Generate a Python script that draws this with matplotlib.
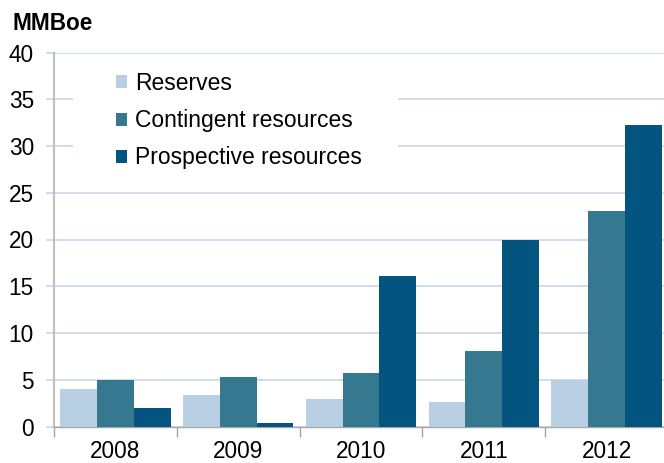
import matplotlib.pyplot as plt
from matplotlib.patches import Rectangle

years = ["2008", "2009", "2010", "2011", "2012"]
reserves = [4.0, 3.4, 2.9, 2.6, 5.0]
contingent = [5.0, 5.3, 5.75, 8.05, 23.1]
prospective = [1.95, 0.35, 16.1, 20.0, 32.2]

names = ["Reserves", "Contingent resources", "Prospective resources"]
colors = ["#b9d0e4", "#36788f", "#03557f"]

plt.rcParams['font.family'] = ['Liberation Sans', 'DejaVu Sans']

fig = plt.figure(figsize=(6.64, 4.63), dpi=100)
ax = fig.add_axes([54 / 664, 36.5 / 463, 614 / 664, 374 / 463])

x = list(range(len(years)))
w = 0.3
for i, (vals, name, c) in enumerate(zip([reserves, contingent, prospective], names, colors)):
    ax.bar([p + (i - 1) * w for p in x], vals, width=w, color=c, label=name, zorder=3)

ax.set_xlim(-0.5, len(years) - 0.5)
ax.set_ylim(0, 40)
ax.set_yticks(range(0, 41, 5))
ax.yaxis.grid(True, color="#c8d6ea", linewidth=1.2, zorder=0)
ax.set_axisbelow(True)

# category boundaries as major ticks, labels on minor ticks
ax.set_xticks([p - 0.5 for p in range(len(years) + 1)])
ax.set_xticklabels([])
ax.set_xticks(x, minor=True)
ax.set_xticklabels(years, minor=True)
ax.tick_params(axis="x", which="major", length=7, color="#a6a6a6", width=1)
ax.tick_params(axis="x", which="minor", length=0, pad=9.5, labelsize=16.3)
ax.tick_params(axis="y", length=6, color="#c8d6ea", width=1.2, pad=8.5, labelsize=16.3)

for s in ["top", "right"]:
    ax.spines[s].set_visible(False)
ax.spines["left"].set_color("#bfbfbf")
ax.spines["left"].set_linewidth(1.5)
ax.spines["bottom"].set_color("#a6a6a6")
ax.spines["bottom"].set_linewidth(1)

# white box behind the legend hides the gridlines
ax.add_patch(Rectangle((0.031, 0.646), 0.529, 0.334, transform=ax.transAxes,
                       facecolor="white", edgecolor="none", zorder=2))

leg = ax.legend(loc="upper left", bbox_to_anchor=(116 / 664, 1 - 72 / 463),
                bbox_transform=fig.transFigure, frameon=False, fontsize=16.5,
                handlelength=0.5, handleheight=0.5, handletextpad=0.33,
                labelspacing=0.62, borderpad=0, borderaxespad=0)
leg.set_zorder(4)

fig.text(13 / 664, 1 - 30 / 463, "MMBoe", fontsize=16.3, fontweight="bold",
         va="baseline", ha="left")

fig.savefig("out.png", dpi=100)
